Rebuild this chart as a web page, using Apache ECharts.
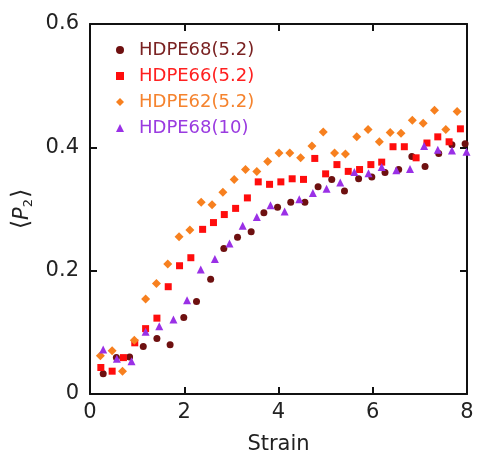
<!DOCTYPE html>
<html>
<head>
<meta charset="utf-8">
<script src="https://cdn.jsdelivr.net/npm/echarts@6/dist/echarts.min.js"></script>
<style>
html,body{margin:0;padding:0;background:#fff;}
#chart{width:477px;height:460px;}
</style>
</head>
<body>
<div id="chart"></div>
<script>
// Series names
const seriesNames = ['HDPE68(5.2)', 'HDPE66(5.2)', 'HDPE62(5.2)', 'HDPE68(10)'];

// HDPE68(5.2) - dark red circles
const strainA = [0.28,0.56,0.84,1.13,1.42,1.70,1.99,2.26,2.56,2.84,3.13,3.42,3.69,3.98,4.26,4.56,4.84,5.13,5.40,5.70,5.98,6.26,6.55,6.83,7.11,7.40,7.68,7.96];
const p2A = [0.033,0.059,0.060,0.077,0.090,0.080,0.124,0.150,0.186,0.236,0.254,0.263,0.294,0.303,0.311,0.311,0.336,0.348,0.329,0.349,0.352,0.359,0.364,0.385,0.369,0.390,0.404,0.406];

// HDPE66(5.2) - red squares
const strainB = [0.23,0.47,0.71,0.95,1.18,1.42,1.66,1.90,2.14,2.39,2.62,2.85,3.09,3.34,3.57,3.81,4.05,4.29,4.53,4.77,5.00,5.24,5.48,5.72,5.96,6.19,6.43,6.67,6.92,7.15,7.38,7.62,7.86];
const p2B = [0.043,0.037,0.059,0.083,0.106,0.123,0.174,0.208,0.221,0.267,0.278,0.291,0.301,0.318,0.344,0.340,0.344,0.349,0.348,0.382,0.357,0.372,0.361,0.364,0.372,0.376,0.401,0.401,0.383,0.407,0.417,0.409,0.430];

// HDPE62(5.2) - orange diamonds
const strainC = [0.22,0.47,0.69,0.94,1.18,1.41,1.65,1.89,2.12,2.36,2.59,2.82,3.06,3.30,3.54,3.77,4.01,4.24,4.47,4.71,4.95,5.19,5.42,5.66,5.90,6.14,6.37,6.60,6.84,7.07,7.31,7.55,7.79];
const p2C = [0.062,0.070,0.037,0.087,0.154,0.179,0.211,0.255,0.266,0.311,0.307,0.327,0.348,0.364,0.361,0.377,0.391,0.391,0.383,0.402,0.425,0.391,0.389,0.417,0.429,0.409,0.424,0.423,0.444,0.439,0.460,0.429,0.458];

// HDPE68(10) - purple triangles
const strainD = [0.28,0.57,0.88,1.18,1.47,1.77,2.06,2.35,2.65,2.96,3.24,3.54,3.83,4.13,4.44,4.73,5.02,5.31,5.61,5.91,6.19,6.50,6.79,7.09,7.38,7.68,7.99];
const p2D = [0.072,0.057,0.053,0.101,0.110,0.121,0.152,0.202,0.219,0.244,0.273,0.287,0.306,0.296,0.316,0.326,0.333,0.343,0.360,0.358,0.368,0.363,0.365,0.402,0.396,0.395,0.393];

// Tick values
const xTicks = [0, 2, 4, 6, 8];
const yTicks = [0, 0.2, 0.4, 0.6];

const colors = ['#6e1010', '#ff0d0d', '#f7801f', '#9a30e6'];
const textColors = ['#7a2222', '#ff2020', '#f5832e', '#9a3be0'];
const symbols = ['circle', 'rect', 'diamond', 'triangle'];
const sizes = [7, 7, 9, 8];

function zip(xs, ys) { return xs.map((x, i) => [x, ys[i]]); }
const allData = [zip(strainA, p2A), zip(strainB, p2B), zip(strainC, p2C), zip(strainD, p2D)];

const font = 'DejaVu Sans';
const axisCol = '#111';

const chart = echarts.init(document.getElementById('chart'), null, {renderer: 'canvas'});
const option = {
  animation: false,
  backgroundColor: '#fff',
  grid: {left: 90, right: 10, top: 24, bottom: 59, containLabel: false},
  legend: {
    orient: 'vertical',
    left: 111,
    top: 36,
    itemWidth: 8,
    itemHeight: 8,
    itemGap: 8,
    data: seriesNames.map((n, i) => ({name: n, textStyle: {color: textColors[i]}})),
    textStyle: {fontFamily: font, fontSize: 18, padding: [0, 0, 0, 10]}
  },
  xAxis: [{
    type: 'value', min: xTicks[0], max: xTicks[xTicks.length - 1], interval: 2,
    name: 'Strain', nameLocation: 'middle', nameGap: 40,
    nameTextStyle: {fontFamily: font, fontSize: 21, color: '#222'},
    axisLine: {show: true, onZero: false, lineStyle: {color: axisCol, width: 2}},
    axisTick: {show: true, inside: true, length: 7, lineStyle: {color: axisCol, width: 2}},
    axisLabel: {fontFamily: font, fontSize: 21, color: '#222', margin: 8},
    splitLine: {show: false}
  }, {
    type: 'value', position: 'top', min: xTicks[0], max: xTicks[xTicks.length - 1], interval: 2,
    axisLine: {show: true, onZero: false, lineStyle: {color: axisCol, width: 2}},
    axisTick: {show: true, inside: true, length: 7, lineStyle: {color: axisCol, width: 2}},
    axisLabel: {show: false}, splitLine: {show: false}
  }],
  yAxis: [{
    type: 'value', min: yTicks[0], max: yTicks[yTicks.length - 1], interval: 0.2,
    name: '{b|⟨}{i|P}{s|2}{b|⟩}', nameLocation: 'middle', nameGap: 40, nameRotate: 90,
    nameTextStyle: {
      fontFamily: font, fontSize: 21, color: '#222',
      rich: {
        b: {fontFamily: font, fontSize: 24, color: '#222'},
        i: {fontFamily: font, fontSize: 21, fontStyle: 'italic', color: '#222'},
        s: {fontFamily: font, fontSize: 13, color: '#222', padding: [12, 1, 0, 0]}
      }
    },
    axisLine: {show: true, onZero: false, lineStyle: {color: axisCol, width: 2}},
    axisTick: {show: true, inside: true, length: 7, lineStyle: {color: axisCol, width: 2}},
    axisLabel: {fontFamily: font, fontSize: 21, color: '#222', margin: 11,
      formatter: v => String(Math.round(v * 10) / 10)},
    splitLine: {show: false}
  }, {
    type: 'value', position: 'right', min: yTicks[0], max: yTicks[yTicks.length - 1], interval: 0.2,
    axisLine: {show: true, onZero: false, lineStyle: {color: axisCol, width: 2}},
    axisTick: {show: true, inside: true, length: 7, lineStyle: {color: axisCol, width: 2}},
    axisLabel: {show: false}, splitLine: {show: false}
  }],
  series: seriesNames.map((n, i) => ({
    name: n, type: 'scatter', xAxisIndex: 0, yAxisIndex: 0,
    symbol: symbols[i], symbolSize: sizes[i],
    itemStyle: {color: colors[i], opacity: 1},
    data: allData[i], clip: false
  }))
};
chart.setOption(option);
</script>
</body>
</html>
